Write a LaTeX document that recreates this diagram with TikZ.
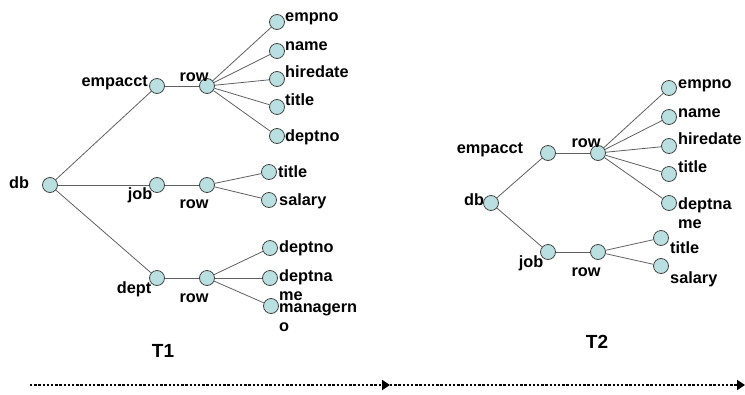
\documentclass[tikz,border=0pt]{standalone}
\usepackage{fontspec}
\setmainfont{Liberation Sans}
\usetikzlibrary{arrows.meta}
\definecolor{vfill}{RGB}{185,223,224}
\definecolor{vline}{RGB}{70,70,70}
\definecolor{edgecol}{RGB}{95,95,95}
\tikzset{
  vtx/.style={circle,draw=vline,line width=0.8pt,fill=vfill,minimum size=15pt,inner sep=0pt},
  edge/.style={draw=edgecol,line width=0.8pt},
  lbl/.style={anchor=base west,inner sep=0pt,font=\fontsize{16.3}{19}\selectfont\bfseries},
  lblc/.style={lbl,anchor=base},
  title/.style={anchor=base,inner sep=0pt,font=\fontsize{19}{22}\selectfont\bfseries},
  timeline/.style={line width=2.6pt,dash pattern=on 2.4pt off 1.8pt,-{Triangle[length=8pt,width=10pt]}}
}
\newcommand{\twoline}[2]{\vtop{\baselineskip=19.5pt\hbox{#1}\hbox{#2}}}
\begin{document}
\begin{tikzpicture}[x=1pt,y=-1pt]
\useasboundingbox (0,0) rectangle (745,394);

% ---------- T1 ----------
\node[vtx] (adb) at (50,185) {};
\node[vtx] (aemp) at (157,86) {};
\node[vtx] (arow1) at (207,86) {};
\node[vtx] (aempno) at (277,22) {};
\node[vtx] (aname) at (277,51) {};
\node[vtx] (ahire) at (277,79) {};
\node[vtx] (atitle) at (277,107) {};
\node[vtx] (adeptno) at (277,136) {};
\node[vtx] (ajob) at (157,185) {};
\node[vtx] (arow2) at (207,185) {};
\node[vtx] (ajtitle) at (269,172) {};
\node[vtx] (asalary) at (269,200) {};
\node[vtx] (adept) at (157,278) {};
\node[vtx] (arow3) at (207,278) {};
\node[vtx] (addeptno) at (270,248) {};
\node[vtx] (addname) at (270,278) {};
\node[vtx] (amgr) at (271,306) {};

\foreach \a/\b in {adb/aemp,adb/ajob,adb/adept,aemp/arow1,ajob/arow2,adept/arow3,
  arow1/aempno,arow1/aname,arow1/ahire,arow1/atitle,arow1/adeptno,
  arow2/ajtitle,arow2/asalary,arow3/addeptno,arow3/addname,arow3/amgr}
  \path[edge] (\a) -- (\b);

\node[lblc] (ldb) at (19,188) {db};
\node[lbl,anchor=base east] (lemp) at (148,86) {empacct};
\node[lblc] (lrow1) at (194,81) {row};
\node[lbl] (lempno) at (285,21) {empno};
\node[lbl] (lname) at (285,50) {name};
\node[lbl] (lhire) at (285,77) {hiredate};
\node[lbl] (ltitle) at (285,105) {title};
\node[lbl] (ldeptno) at (285,141) {deptno};
\node[lblc] (ljob) at (140,199) {job};
\node[lblc] (lrow2) at (194,208) {row};
\node[lbl] (ljtitle) at (278,177) {title};
\node[lbl] (lsalary) at (279,205) {salary};
\node[lblc] (ldept) at (134,293) {dept};
\node[lblc] (lrow3) at (194,302) {row};
\node[lbl] (lddeptno) at (279,252) {deptno};
\node[lbl] (lddname) at (279,281) {\twoline{deptna}{me}};
\node[lbl] (lmgr) at (279,312) {\twoline{managern}{o}};
\node[title] (tone) at (163,357) {T1};

% ---------- T2 ----------
\node[vtx] (bdb) at (491,203) {};
\node[vtx] (bemp) at (548,153) {};
\node[vtx] (brow1) at (598,153) {};
\node[vtx] (bempno) at (669,88) {};
\node[vtx] (bname) at (669,117) {};
\node[vtx] (bhire) at (669,146) {};
\node[vtx] (btitle) at (669,174) {};
\node[vtx] (bdname) at (669,203) {};
\node[vtx] (bjob) at (548,252) {};
\node[vtx] (brow2) at (598,252) {};
\node[vtx] (bjtitle) at (661,238) {};
\node[vtx] (bsalary) at (661,266) {};

\foreach \a/\b in {bdb/bemp,bdb/bjob,bemp/brow1,bjob/brow2,
  brow1/bempno,brow1/bname,brow1/bhire,brow1/btitle,brow1/bdname,
  brow2/bjtitle,brow2/bsalary}
  \path[edge] (\a) -- (\b);

\node[lblc] (mdb) at (474,205) {db};
\node[lblc] (memp) at (490,153) {empacct};
\node[lblc] (mrow1) at (586,147) {row};
\node[lbl] (mempno) at (678,88) {empno};
\node[lbl] (mname) at (678,117) {name};
\node[lbl] (mhire) at (678,144) {hiredate};
\node[lbl] (mtitle) at (678,172) {title};
\node[lbl] (mdname) at (678,209) {\twoline{deptna}{me}};
\node[lblc] (mjob) at (531,267) {job};
\node[lblc] (mrow2) at (586,276) {row};
\node[lbl] (mjtitle) at (670,253) {title};
\node[lbl] (msalary) at (670,283) {salary};
\node[title] (ttwo) at (597,348) {T2};

% ---------- time line ----------
\coordinate (t0) at (30,385);
\coordinate (t1) at (390,385);
\coordinate (t2) at (745,385);
\draw[timeline] (t0) -- (t1);
\draw[timeline] (t1) -- (t2);
\end{tikzpicture}
\end{document}
